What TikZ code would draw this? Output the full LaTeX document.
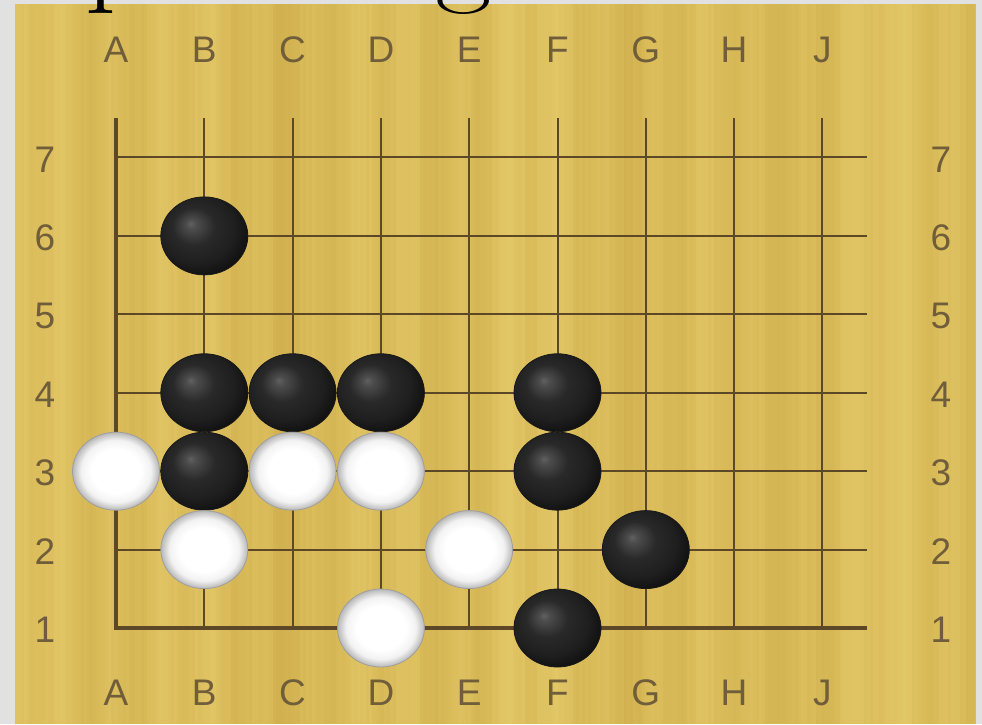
\documentclass[tikz,border=0pt]{standalone}
\usepackage{fontspec}
\newfontfamily\labelfont{Liberation Sans}
\usetikzlibrary{shapes.geometric}
\definecolor{bggrey}{RGB}{225,225,225}
\definecolor{woodbase}{RGB}{217,187,88}
\definecolor{woodlight}{RGB}{227,200,104}
\definecolor{wooddark}{RGB}{209,176,78}
\definecolor{gridline}{RGB}{92,72,38}
\definecolor{labelcol}{RGB}{112,93,58}
\pgfdeclareradialshading{blackstone}{\pgfpoint{-8bp}{8bp}}{color(0bp)=(black!62); color(3bp)=(black!70); color(12bp)=(black!84); color(22bp)=(black!88); color(30bp)=(black!94); color(50bp)=(black!94)}
\pgfdeclareradialshading{whitestone}{\pgfpoint{0bp}{0bp}}{color(0bp)=(white); color(14bp)=(white); color(20bp)=(black!5); color(25bp)=(black!28); color(50bp)=(black!28)}
\tikzset{
  bstone/.style={ellipse, minimum width=87pt, minimum height=78pt, inner sep=0pt, shading=blackstone, draw=black!90, line width=0.8pt},
  wstone/.style={ellipse, minimum width=87pt, minimum height=78pt, inner sep=0pt, shading=whitestone, draw=black!38, line width=0.8pt},
  gridthin/.style={draw=gridline, line width=2pt},
  gridthick/.style={draw=gridline, line width=3.4pt, line join=miter},
  coordlabel/.style={font=\labelfont\fontsize{37}{37}\selectfont, text=labelcol, inner sep=0pt},
  titletext/.style={font=\fontsize{108}{108}\selectfont, text=black, inner sep=0pt, anchor=base west, xscale=1.14}
}
\newcommand\gx[1]{116+88.3*#1}
\newcommand\gy[1]{628-78.42*(#1-1)}
\begin{document}
\begin{tikzpicture}[x=1pt,y=-1pt]
\useasboundingbox (0,0) rectangle (982,724);
\begin{scope}
\clip (0,0) rectangle (982,724);
% background
\fill[bggrey] (0,0) rectangle (982,724);
% wood board
\fill[woodbase] (15,4) rectangle (976,724);
\pgfmathsetseed{42}
\foreach \x in {15,18,...,973} {
  \pgfmathtruncatemacro\r{max(0,min(100,50+18*sin(\x*7.3)+16*sin(\x*2.1+40)+12*sin(\x*0.9)+20*(rnd-0.5)))}
  \fill[woodlight!\r!wooddark] (\x,4) rectangle ++(3.2,720);
}
% partial title text (cut off at the top, as in the reference)
\node[titletext] (tp) at (85,-8) {p};
\node[titletext] (tg) at (435,-8) {g};
% grid
\foreach \i in {1,...,8} \draw[gridthin] ({\gx{\i}},118) -- ({\gx{\i}},628);
\foreach \r in {2,...,7} \draw[gridthin] (116,{\gy{\r}}) -- (867,{\gy{\r}});
\draw[gridthick] (116,118) -- (116,628) -- (867,628);
% column labels
\foreach \c [count=\i from 0] in {A,B,C,D,E,F,G,H,J} {
  \node[coordlabel] (top\c) at ({\gx{\i}},50) {\c};
  \node[coordlabel] (bot\c) at ({\gx{\i}},693) {\c};
}
% row labels
\foreach \r in {1,...,7} {
  \node[coordlabel] (left\r) at (45,{\gy{\r}+2}) {\r};
  \node[coordlabel] (right\r) at (941,{\gy{\r}+2}) {\r};
}
% black stones
\node[bstone] (B6) at ({\gx{1}},{\gy{6}}) {};
\node[bstone] (B4) at ({\gx{1}},{\gy{4}}) {};
\node[bstone] (C4) at ({\gx{2}},{\gy{4}}) {};
\node[bstone] (D4) at ({\gx{3}},{\gy{4}}) {};
\node[bstone] (F4) at ({\gx{5}},{\gy{4}}) {};
\node[bstone] (B3) at ({\gx{1}},{\gy{3}}) {};
\node[bstone] (F3) at ({\gx{5}},{\gy{3}}) {};
\node[bstone] (G2) at ({\gx{6}},{\gy{2}}) {};
\node[bstone] (F1) at ({\gx{5}},{\gy{1}}) {};
% white stones
\node[wstone] (A3) at ({\gx{0}},{\gy{3}}) {};
\node[wstone] (C3) at ({\gx{2}},{\gy{3}}) {};
\node[wstone] (D3) at ({\gx{3}},{\gy{3}}) {};
\node[wstone] (B2) at ({\gx{1}},{\gy{2}}) {};
\node[wstone] (E2) at ({\gx{4}},{\gy{2}}) {};
\node[wstone] (D1) at ({\gx{3}},{\gy{1}}) {};
\end{scope}
\end{tikzpicture}
\end{document}
